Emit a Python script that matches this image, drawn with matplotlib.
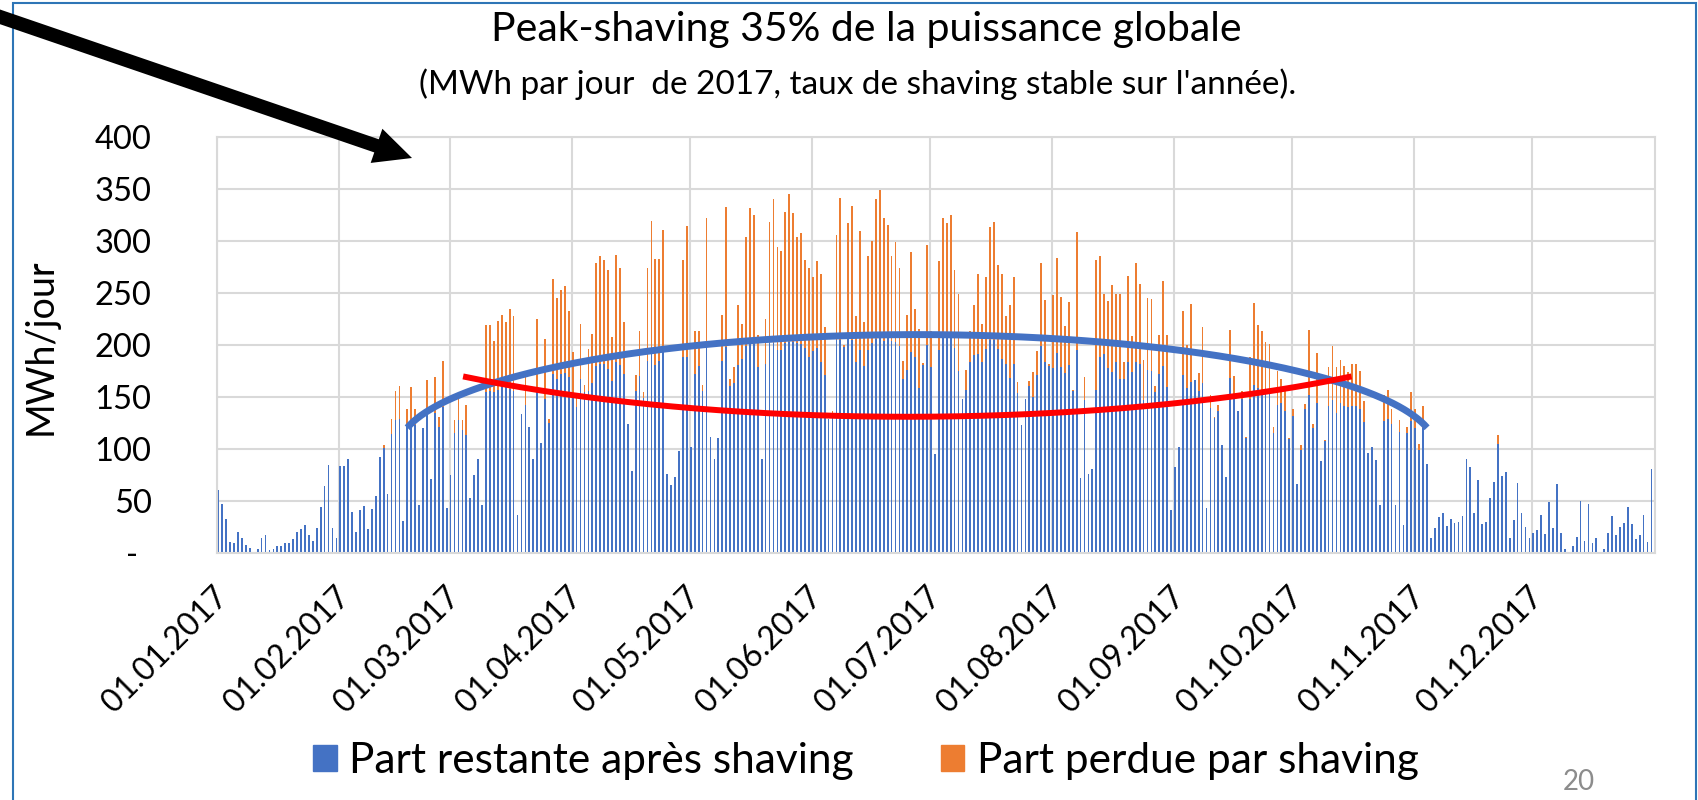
import numpy as np
import pandas as pd
import matplotlib
matplotlib.use("Agg")
import matplotlib.pyplot as plt
from matplotlib.patches import FancyArrowPatch, Rectangle, Patch
from matplotlib.transforms import IdentityTransform, ScaledTranslation

plt.rcParams['font.family'] = ['Lato', 'DejaVu Sans']

# ---------------- data (MWh per day, 2017) ----------------
dates = pd.date_range('2017-01-01', '2017-12-31', freq='D')

restante = [
    61, 47, 33, 11, 10, 20, 14, 8, 5, 1,
    4, 14, 17, 3, 4, 7, 7, 10, 10, 13,
    20, 23, 27, 17, 12, 24, 44, 64, 85, 24,
    14, 84, 84, 90, 39, 20, 41, 45, 23, 42,
    55, 92, 101, 57, 114, 128, 129, 31, 123, 124,
    123, 46, 120, 134, 71, 135, 121, 140, 43, 75,
    115, 128, 118, 113, 53, 75, 90, 46, 155, 156,
    155, 157, 163, 160, 158, 156, 37, 134, 142, 121,
    90, 160, 106, 148, 125, 172, 167, 172, 173, 169,
    152, 140, 167, 155, 156, 163, 180, 182, 182, 177,
    165, 184, 181, 172, 124, 79, 156, 170, 149, 185,
    192, 181, 185, 193, 76, 65, 73, 98, 188, 188,
    102, 172, 180, 156, 198, 112, 90, 111, 185, 198,
    161, 163, 181, 187, 199, 201, 201, 179, 90, 182,
    202, 202, 195, 195, 202, 203, 203, 202, 201, 197,
    188, 194, 197, 184, 171, 129, 135, 205, 205, 198,
    206, 205, 184, 195, 180, 195, 202, 206, 207, 204,
    207, 204, 203, 199, 167, 176, 193, 188, 159, 181,
    200, 179, 95, 195, 208, 208, 208, 197, 175, 148,
    157, 184, 190, 191, 184, 196, 205, 205, 196, 187,
    182, 168, 182, 154, 123, 148, 161, 150, 171, 199,
    184, 180, 178, 192, 179, 173, 181, 156, 195, 72,
    147, 76, 81, 157, 188, 191, 178, 174, 184, 167,
    167, 184, 174, 184, 182, 147, 176, 175, 155, 172,
    180, 160, 41, 83, 102, 171, 159, 164, 166, 156,
    163, 43, 139, 130, 137, 104, 73, 168, 153, 137,
    148, 111, 148, 162, 159, 157, 157, 157, 115, 142,
    144, 137, 110, 132, 66, 99, 138, 152, 120, 144,
    88, 108, 141, 147, 135, 144, 141, 140, 141, 141,
    138, 126, 96, 102, 89, 46, 127, 129, 124, 46,
    116, 27, 115, 127, 120, 99, 120, 86, 14, 24,
    35, 38, 26, 33, 29, 30, 36, 90, 83, 38,
    70, 28, 30, 53, 68, 105, 74, 78, 14, 32,
    67, 38, 25, 14, 19, 22, 37, 18, 49, 24,
    66, 19, 4, 0, 7, 15, 50, 12, 47, 10,
    14, 1, 4, 19, 36, 17, 25, 29, 44, 28,
    13, 17, 37, 11, 81,
]

perdue = [
    0, 0, 0, 0, 0, 0, 0, 0, 0, 0,
    0, 0, 0, 0, 0, 0, 0, 0, 0, 0,
    0, 0, 0, 0, 0, 0, 0, 0, 0, 0,
    0, 0, 0, 0, 0, 0, 0, 0, 0, 0,
    0, 0, 3, 0, 15, 28, 32, 0, 15, 36,
    15, 0, 0, 32, 0, 34, 10, 45, 0, 0,
    13, 22, 10, 29, 0, 0, 0, 0, 64, 63,
    49, 66, 66, 62, 77, 72, 0, 0, 27, 0,
    0, 65, 0, 58, 4, 91, 78, 81, 84, 64,
    41, 13, 53, 7, 40, 48, 99, 104, 100, 95,
    43, 103, 93, 50, 0, 0, 15, 43, 6, 89,
    127, 102, 98, 118, 0, 0, 0, 0, 94, 126,
    0, 41, 33, 6, 124, 0, 0, 0, 44, 135,
    6, 16, 57, 33, 105, 131, 124, 31, 0, 43,
    116, 138, 99, 95, 126, 142, 124, 102, 107, 85,
    86, 71, 84, 84, 46, 0, 2, 101, 136, 2,
    111, 129, 44, 115, 42, 91, 98, 134, 142, 118,
    108, 82, 96, 75, 18, 53, 96, 47, 56, 2,
    96, 34, 0, 86, 114, 109, 117, 75, 74, 0,
    19, 29, 48, 77, 36, 69, 108, 113, 81, 81,
    46, 70, 83, 10, 0, 0, 4, 24, 23, 80,
    59, 2, 70, 92, 67, 45, 60, 1, 114, 0,
    22, 0, 0, 125, 98, 58, 64, 84, 65, 82,
    17, 82, 35, 95, 77, 39, 69, 69, 6, 38,
    82, 50, 0, 0, 0, 62, 41, 75, 0, 17,
    54, 0, 13, 1, 5, 0, 0, 46, 17, 0,
    8, 1, 40, 78, 60, 56, 46, 44, 6, 33,
    23, 23, 1, 6, 0, 5, 5, 62, 4, 48,
    0, 1, 38, 52, 44, 42, 39, 34, 41, 41,
    37, 20, 0, 0, 0, 0, 25, 28, 14, 0,
    12, 0, 6, 28, 18, 6, 21, 0, 0, 0,
    0, 0, 0, 0, 0, 0, 0, 0, 0, 0,
    0, 0, 0, 0, 0, 8, 0, 0, 0, 0,
    0, 0, 0, 0, 0, 0, 0, 0, 0, 0,
    0, 0, 0, 0, 0, 0, 0, 0, 0, 0,
    0, 0, 0, 0, 0, 0, 0, 0, 0, 0,
    0, 0, 0, 0, 0,
]

month_starts = pd.date_range('2017-01-01', periods=12, freq='MS')
month_labels = [d.strftime('%d.%m.%Y') for d in month_starts]
y_ticks = [0, 50, 100, 150, 200, 250, 300, 350, 400]
y_labels = ['-', '50', '100', '150', '200', '250', '300', '350', '400']
legend_labels = ['Part restante après shaving', 'Part perdue par shaving']
title = 'Peak-shaving 35% de la puissance globale'
subtitle = "(MWh par jour  de 2017, taux de shaving stable sur l'année)."

# hand-drawn annotation ellipses (centre day, centre value, half-width, half-height, start/end angle in deg)
blue_arc = (177.5, 100, 131.8, 110, 169.3, 10.7)
red_arc = (175, 300, 177, 169, 230.4, 309.6)

assert len(restante) == len(dates) == len(perdue)

# ---------------- figure ----------------
W, H = 1698, 800
fig = plt.figure(figsize=(W / 100, H / 100), dpi=100)
ax = fig.add_axes([217 / W, 1 - 553 / H, (1655 - 217) / W, (553 - 137) / H])

BLUE = '#4472C4'
ORANGE = '#ED7D31'
GRID = '#D9D9D9'

x = np.arange(len(dates))
ax.bar(x, restante, width=0.45, color=BLUE, zorder=2, linewidth=0)
ax.bar(x, perdue, bottom=restante, width=0.45, color=ORANGE, zorder=2, linewidth=0)

ax.set_xlim(-0.33, 364.9)
ax.set_ylim(0, 400)

month_pos = (month_starts.dayofyear - 1).to_numpy() - 0.27
ax.set_xticks(month_pos)
ax.set_xticklabels(month_labels, rotation=45, ha='right', va='center',
                   rotation_mode='anchor', fontsize=23)
ax.tick_params(axis='x', length=0, pad=28)
shift = ScaledTranslation(6 / 100, 0, fig.dpi_scale_trans)
for lab in ax.get_xticklabels():
    lab.set_transform(lab.get_transform() + shift)

ax.set_yticks(y_ticks)
ax.set_yticklabels(y_labels, fontsize=23.5)
ax.tick_params(axis='y', length=0, pad=47)
dash = ax.get_yticklabels()[0]
dash.set_transform(dash.get_transform() + ScaledTranslation(-14 / 100, 0, fig.dpi_scale_trans))

ax.grid(True, color=GRID, linewidth=1.5, zorder=0)
ax.set_axisbelow(True)
for s in ax.spines.values():
    s.set_color(GRID)
    s.set_linewidth(1.5)

# annotation arcs
def arc(params, n=200):
    cx, cy, a, b, t0, t1 = params
    t = np.radians(np.linspace(t0, t1, n))
    return cx + a * np.cos(t), cy + b * np.sin(t)

bx, by = arc(blue_arc)
ax.plot(bx, by, color=BLUE, lw=5, solid_capstyle='butt', zorder=5, clip_on=False)
rx, ry = arc(red_arc)
ax.plot(rx, ry, color='#FF0000', lw=4.3, solid_capstyle='butt', zorder=6, clip_on=False)

# titles
fig.text(866 / W, 1 - 29 / H, title, ha='center', va='center', fontsize=29.5)
fig.text(858 / W, 1 - 84 / H, subtitle, ha='center', va='center', fontsize=24)
fig.text(41 / W, 1 - 347 / H, 'MWh/jour', rotation=90, ha='center', va='center', fontsize=27)

# legend
handles = [Patch(color=BLUE), Patch(color=ORANGE)]
fig.legend(handles, legend_labels, loc='center', bbox_to_anchor=(866 / W, 1 - 761 / H),
           ncol=2, frameon=False, fontsize=30.5, handlelength=0.55, handleheight=0.55,
           handletextpad=0.3, columnspacing=2.05)

# page number
fig.text(1579 / W, 1 - 782 / H, '20', ha='center', va='center', fontsize=20, color='#8C8C8C')

# chart-area frame
fig.add_artist(Rectangle((13, -10), 1696 - 13, 797 + 10, transform=IdentityTransform(),
                         fill=False, edgecolor='#2E75B6', linewidth=1.5))

# black arrow (annotation)
arrow = FancyArrowPatch(posA=(-20, 790), posB=(412, 642), transform=IdentityTransform(),
                        arrowstyle='simple,head_length=1.35,head_width=1.3,tail_width=0.5',
                        mutation_scale=20, color='black', linewidth=0, shrinkA=0, shrinkB=0)
fig.add_artist(arrow)

fig.savefig('out.png', dpi=100)
